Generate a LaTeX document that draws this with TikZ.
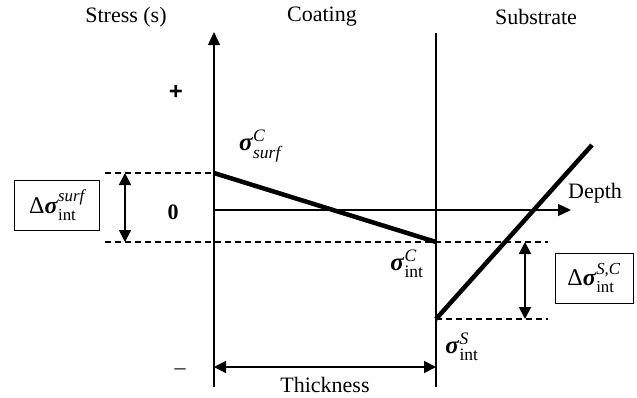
\documentclass[tikz,border=0pt]{standalone}
\usepackage{amsmath}
\usepackage{fontspec}
\setmainfont{Liberation Serif}
\newfontfamily\signfont{Liberation Sans}
\usetikzlibrary{arrows.meta, positioning}
\newcommand{\sig}{\textbf{\textit{σ}}}

\begin{document}
\begin{tikzpicture}[x=1pt, y=-1pt,
        axis/.style={line width=1.3pt},
        ax/.style={axis, -{Triangle[length=13pt, width=12pt]}},
        dim/.style={line width=1.8pt, {Triangle[length=12pt, width=12pt]}-{Triangle[length=12pt, width=12pt]}},
        prof/.style={line width=4.5pt},
        guide/.style={line width=1.1pt, dash pattern=on 6pt off 4pt},
        lbl/.style={font=\fontsize{22}{24}\selectfont},
        sym/.style={font=\fontsize{25}{27}\selectfont, inner sep=0pt},
        valbox/.style={draw, line width=1pt, inner sep=3pt, font=\fontsize{24}{26}\selectfont}
    ]
        \useasboundingbox (0,0) rectangle (637,397);

        % axes and interface
        \coordinate (ybot) at (214,387);
        \coordinate (ytop) at (214,32);
        \coordinate (itop) at (436,33);
        \coordinate (ibot) at (436,387);
        \coordinate (o) at (214,210);
        \coordinate (xend) at (571,210);
        \draw[ax] (ybot) -- (ytop);
        \draw[axis] (itop) -- (ibot);
        \draw[ax] (o) -- (xend);

        % stress profile
        \coordinate (csurf) at (214,173);
        \coordinate (cint) at (436,242);
        \coordinate (sint) at (436,319);
        \coordinate (stop) at (592,145);
        \draw[prof] (csurf) -- (cint);
        \draw[prof] (sint) -- (stop);

        % guide lines
        \coordinate (gl1) at (105,173);
        \coordinate (gl2) at (105,242);
        \coordinate (gr2) at (548,242);
        \coordinate (gr3) at (548,319);
        \draw[guide] (gl1) -- (csurf);
        \draw[guide] (gl2) -- (gr2);
        \draw[guide] (sint) -- (gr3);

        % dimension arrows
        \coordinate (da1) at (125,173);
        \coordinate (da2) at (125,242);
        \coordinate (db1) at (525,242);
        \coordinate (db2) at (525,319);
        \coordinate (th1) at (214,367);
        \coordinate (th2) at (436,367);
        \draw[dim] (da1) -- (da2);
        \draw[dim] (db1) -- (db2);
        \draw[dim] (th1) -- (th2);

        % texts
        \node[lbl] (stress) at (126,17) {Stress (s)};
        \node[lbl] (coat) at (322,17) {Coating};
        \node[lbl] (subs) at (536,17) {Substrate};
        \node[lbl] (depth) at (595,193) {Depth};
        \node[lbl] (thick) at (325,385) {Thickness};
        \node[lbl, font=\fontsize{24}{26}\selectfont\signfont\bfseries] (plus) at (176,92) {+};
        \node[lbl, font=\fontsize{22}{24}\selectfont\bfseries] (zero) at (173,212) {0};
        \node[lbl] (minus) at (180,372) {–};
        \node[sym] (ssurf) at (260,146) {$\sig^{\textit{C}}_{\textit{surf}}$};
        \node[sym] (sintc) at (407,264) {$\sig^{\textit{C}}_{\text{int}}$};
        \node[sym] (sints) at (462,347) {$\sig^{\textit{S}}_{\text{int}}$};
        \node[valbox, minimum width=85pt, minimum height=50pt] (dsurf) at (57,205) {$\text{Δ}\sig^{\textit{surf}}_{\text{int}}$};
        \node[valbox, minimum width=78pt, minimum height=50pt] (dsc) at (594,278) {$\text{Δ}\sig^{\textit{S,C}}_{\text{int}}$};
    \end{tikzpicture}
\end{document}
